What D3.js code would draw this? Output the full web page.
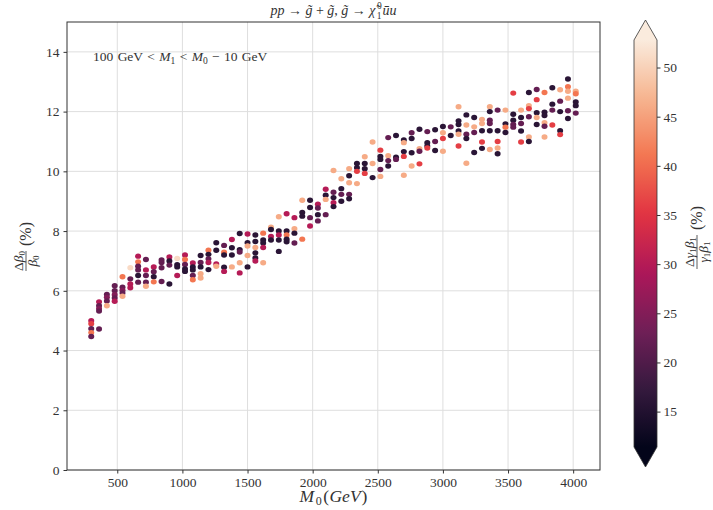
<!DOCTYPE html>
<html>
<head>
<meta charset="utf-8">
<script src="https://cdn.jsdelivr.net/npm/d3@7"></script>
<style>
  body { margin: 0; background: #fff; }
  text { font-family: "Liberation Serif", "DejaVu Serif", serif; fill: #333; }
</style>
</head>
<body>
<div id="chart"></div>
<script>
// column positions M0 (GeV)
var m0 = [300, 360, 420, 480, 540, 600, 660, 720, 780, 840, 900, 960, 1020, 1080, 1140, 1200,
  1260, 1320, 1380, 1440, 1500, 1560, 1620, 1680, 1740, 1800, 1860, 1920, 1980, 2040, 2100, 2160,
  2220, 2280, 2340, 2400, 2460, 2520, 2580, 2640, 2700, 2760, 2820, 2880, 2940, 3000, 3060, 3120,
  3180, 3240, 3300, 3360, 3420, 3480, 3540, 3600, 3660, 3720, 3780, 3840, 3900, 3960, 4020];

// delta beta0 / beta0 (%) for every point in each column
var dBeta = [
  [5.0, 4.9, 4.73, 4.6, 4.47], [5.63, 5.5, 5.4, 5.32, 4.72], [5.88, 5.78, 5.66, 5.5],
  [6.17, 6.0, 5.87, 5.76, 5.65], [6.47, 6.12, 6.02, 5.93, 5.82], [6.77, 6.4, 6.23, 6.1],
  [7.16, 6.97, 6.82, 6.7, 6.51, 6.29], [7.05, 6.7, 6.51, 6.29, 6.15], [6.8, 6.64, 6.47, 6.3],
  [7.03, 6.95, 6.77, 6.31], [7.13, 7.0, 6.86, 6.23], [7.08, 6.87, 6.8, 6.51],
  [7.2, 7.05, 6.88, 6.73, 6.65], [6.93, 6.8, 6.7, 6.51, 6.37], [7.18, 6.95, 6.8, 6.57, 6.43],
  [7.36, 7.22, 7.07, 6.95, 6.71], [7.61, 7.36, 6.9, 6.82], [7.52, 7.29, 7.2, 6.79, 6.65],
  [7.72, 7.44, 7.2, 6.8], [7.92, 7.38, 7.3, 6.94, 6.6], [7.9, 7.61, 7.5, 7.18, 6.8],
  [7.87, 7.65, 7.45, 7.27, 7.1, 7.0], [7.93, 7.7, 7.6, 7.45, 6.94], [8.13, 8.05, 7.82, 7.7],
  [8.48, 8.0, 7.87, 7.7, 7.32], [8.58, 8.0, 7.87, 7.73, 7.64], [8.45, 8.08, 7.93, 7.6],
  [9.03, 8.62, 8.5, 7.73], [9.03, 8.79, 8.45, 8.17], [8.9, 8.77, 8.55, 8.34],
  [9.4, 9.2, 9.06, 8.55], [10.03, 9.3, 9.12, 8.95, 8.82], [9.75, 9.42, 9.23, 9.0],
  [10.09, 9.85, 9.62, 9.23, 9.08], [10.26, 10.12, 10.0, 9.59], [10.49, 10.26, 10.09, 9.93],
  [10.98, 10.26, 9.79], [10.71, 10.5, 10.4, 10.06, 9.83], [11.13, 10.52, 10.36, 10.18],
  [11.2, 10.47, 10.4], [11.05, 10.96, 10.66, 10.5, 9.87], [11.29, 11.1, 10.62, 10.18],
  [11.41, 10.76, 10.67, 10.25], [11.33, 10.96, 10.85, 10.78], [11.39, 11.0, 10.7],
  [11.5, 11.29, 11.1, 10.67], [11.49, 11.2], [12.16, 11.69, 11.57, 11.35, 11.24, 10.85],
  [11.89, 11.55, 11.24, 11.1, 10.27], [11.8, 11.49, 11.3, 10.63], [11.74, 11.6, 11.36, 10.98, 10.77],
  [12.16, 12.0, 11.71, 11.6, 11.36, 10.73], [12.05, 11.36, 11.0, 10.78, 10.59], [12.05, 11.59, 11.48, 11.3],
  [12.62, 11.91, 11.71, 11.57, 11.48], [12.05, 11.8, 11.6, 11.35, 10.98], [12.64, 12.2, 12.1, 11.83, 11.15, 11.0],
  [12.74, 12.4, 11.96, 11.8, 11.57], [12.64, 11.98, 11.87, 11.63, 11.51, 11.15], [12.8, 12.25, 12.05, 11.55],
  [12.73, 12.35, 12.0, 11.36, 11.23], [13.09, 12.83, 12.68, 12.45, 12.03, 11.77], [12.68, 12.6, 12.32, 12.2, 11.95]
];

// delta gamma1 beta1 / gamma1 beta1 (%) -> colour, same layout as dBeta
var dGamma = [
  [30, 36, 22, 41, 22], [30, 22, 25, 22, 22], [22, 25, 22, 46],
  [22, 22, 25, 22, 30], [41, 22, 25, 22, 46], [51, 22, 30, 30],
  [30, 41, 22, 22, 16, 22], [22, 30, 22, 22, 46], [30, 22, 16, 41],
  [22, 22, 22, 22], [30, 16, 22, 16], [51, 16, 16, 30],
  [30, 41, 22, 16, 16], [30, 16, 16, 22, 41], [16, 22, 16, 46, 46],
  [41, 16, 22, 30, 16], [16, 16, 30, 46], [22, 41, 16, 16, 30],
  [30, 16, 16, 46], [16, 16, 22, 46, 30], [30, 16, 46, 46, 16],
  [16, 16, 46, 16, 16, 30], [41, 16, 16, 30, 46], [46, 16, 30, 16],
  [46, 16, 30, 16, 16], [30, 16, 41, 16, 16], [30, 46, 16, 22],
  [46, 16, 16, 41], [16, 16, 22, 30], [30, 22, 16, 22],
  [30, 16, 46, 22], [46, 22, 16, 30, 16], [46, 16, 22, 16],
  [46, 16, 46, 22, 16], [16, 16, 36, 46], [46, 16, 16, 36],
  [46, 46, 16], [36, 16, 16, 22, 46], [22, 46, 22, 16],
  [16, 16, 22], [16, 46, 16, 36, 46], [22, 16, 16, 46],
  [16, 46, 22, 36], [22, 16, 16, 36], [16, 22, 16],
  [16, 46, 36, 46], [22, 16], [46, 16, 16, 16, 46, 36],
  [16, 46, 22, 16, 46], [16, 46, 22, 16], [46, 46, 16, 36, 16],
  [46, 16, 22, 22, 16, 46], [22, 16, 36, 46, 16], [46, 16, 41, 16],
  [36, 16, 16, 22, 22], [46, 16, 22, 16, 36], [16, 46, 36, 22, 46, 16],
  [22, 36, 16, 46, 16], [41, 16, 16, 46, 22, 46], [16, 16, 22, 36],
  [46, 22, 16, 16, 36], [16, 41, 46, 46, 22, 16], [46, 41, 16, 16, 22]
];

var xTicks = [500, 1000, 1500, 2000, 2500, 3000, 3500, 4000];
var yTicks = [0, 2, 4, 6, 8, 10, 12, 14];
var cTicks = [15, 20, 25, 30, 35, 40, 45, 50];
// seaborn "rocket" colormap samples
var rocket = ["#03051a", "#35193e", "#701f57", "#ad1759", "#e13342", "#f37651", "#f6b48f", "#faebdd"];

var W = 713, H = 510;
var L = 67, R = 600, T = 22, B = 470;

var svg = d3.select("#chart").append("svg")
  .attr("width", W).attr("height", H);

var x = d3.scaleLinear().domain([114, 4206]).range([L, R]);
var y = d3.scaleLinear().domain([0, 15]).range([B, T]);
var cmin = 11.4, cmax = 52.8;
var interp = d3.piecewise(d3.interpolateRgb, rocket);
var color = function(v) { return interp(Math.max(0, Math.min(1, (v - cmin) / (cmax - cmin)))); };

// grid
svg.append("g").selectAll("line").data(xTicks).enter().append("line")
  .attr("x1", function(d) { return x(d); }).attr("x2", function(d) { return x(d); })
  .attr("y1", T).attr("y2", B).attr("stroke", "#dedede").attr("stroke-width", 1);
svg.append("g").selectAll("line").data(yTicks).enter().append("line")
  .attr("y1", function(d) { return y(d); }).attr("y2", function(d) { return y(d); })
  .attr("x1", L).attr("x2", R).attr("stroke", "#dedede").attr("stroke-width", 1);

// points
var pts = [];
m0.forEach(function(m, i) {
  dBeta[i].forEach(function(b, j) { pts.push({m: m, b: b, c: dGamma[i][j]}); });
});
svg.append("g").selectAll("ellipse").data(pts).enter().append("ellipse")
  .attr("cx", function(d) { return x(d.m); })
  .attr("cy", function(d) { return y(d.b); })
  .attr("rx", 3).attr("ry", 2.7)
  .attr("fill", function(d) { return color(d.c); });

// axes
var xAxis = svg.append("g").attr("transform", "translate(0," + B + ")")
  .call(d3.axisBottom(x).tickValues(xTicks).tickSize(3.5).tickPadding(4).tickFormat(d3.format("d")));
var yAxis = svg.append("g").attr("transform", "translate(" + L + ",0)")
  .call(d3.axisLeft(y).tickValues(yTicks).tickSize(3.5).tickPadding(4).tickFormat(d3.format("d")));
[xAxis, yAxis].forEach(function(a) {
  a.select(".domain").remove();
  a.selectAll("line").attr("stroke", "#333");
  a.selectAll("text").style("font-family", "Liberation Serif").style("font-size", "13.5px").attr("fill", "#333");
});
svg.append("rect").attr("x", L).attr("y", T).attr("width", R - L).attr("height", B - T)
  .attr("fill", "none").attr("stroke", "#333").attr("stroke-width", 1);

// title
var title = svg.append("text").attr("x", (L + R) / 2).attr("y", 15)
  .attr("text-anchor", "middle").style("font-size", "14px");
title.append("tspan").attr("font-style", "italic").text("pp");
title.append("tspan").text(" \u2192 ");
title.append("tspan").attr("font-style", "italic").text("g\u0303");
title.append("tspan").text(" + ");
title.append("tspan").attr("font-style", "italic").text("g\u0303");
title.append("tspan").text(", ");
title.append("tspan").attr("font-style", "italic").text("g\u0303");
title.append("tspan").text(" \u2192 ");
title.append("tspan").attr("font-style", "italic").text("\u03c7\u0303");
title.append("tspan").attr("dx", 1.5).attr("dy", -6).style("font-size", "9.5px").text("0");
title.append("tspan").attr("dx", -5).attr("dy", 10).style("font-size", "9.5px").text("1");
title.append("tspan").attr("dx", 1).attr("dy", -4).attr("font-style", "italic").text("u\u0304u");

// annotation
var ann = svg.append("text").attr("x", 93).attr("y", 61).style("font-size", "13.5px").style("word-spacing", "1px");
ann.append("tspan").text("100 GeV < ");
ann.append("tspan").attr("font-style", "italic").text("M");
ann.append("tspan").attr("dy", 3).style("font-size", "9.5px").text("1");
ann.append("tspan").attr("dy", -3).text(" < ");
ann.append("tspan").attr("font-style", "italic").text("M");
ann.append("tspan").attr("dy", 3).style("font-size", "9.5px").text("0");
ann.append("tspan").attr("dy", -3).text(" \u2212 10 GeV");

// x label
var xl = svg.append("text").attr("x", (L + R) / 2).attr("y", 502)
  .attr("text-anchor", "middle").style("font-size", "17.5px");
xl.append("tspan").attr("font-style", "italic").text("M");
xl.append("tspan").attr("dx", 1.5).attr("dy", 3).style("font-size", "12px").text("0");
xl.append("tspan").attr("dx", 1.5).attr("dy", -3).text("(");
xl.append("tspan").attr("dx", 0.5).attr("font-style", "italic").text("GeV");
xl.append("tspan").attr("dx", 1).text(")");

// rotated fraction label helper
function fracLabel(cx, cy, num, den, fw) {
  var g = svg.append("g").attr("transform", "translate(" + cx + "," + cy + ") rotate(-90)");
  var n = g.append("text").attr("x", -fw / 2 - 5).attr("y", -3).attr("text-anchor", "middle").style("font-size", "13.5px");
  num(n);
  g.append("line").attr("x1", -fw - 5).attr("x2", -5).attr("y1", 0).attr("y2", 0)
    .attr("stroke", "#333").attr("stroke-width", 0.8);
  var d = g.append("text").attr("x", -fw / 2 - 5).attr("y", 11).attr("text-anchor", "middle").style("font-size", "13.5px");
  den(d);
  g.append("text").attr("x", 0).attr("y", 5).style("font-size", "16px").text("(%)");
}

fracLabel(26, 246, function(t) {
  t.append("tspan").text("\u0394");
  t.append("tspan").attr("font-style", "italic").text("\u03b2");
  t.append("tspan").attr("dy", 2).style("font-size", "9px").text("0");
}, function(t) {
  t.append("tspan").attr("font-style", "italic").text("\u03b2");
  t.append("tspan").attr("dy", 2).style("font-size", "9px").text("0");
}, 20);

// colorbar
var cbL = 634, cbW = 23, cbT = 40, cbB = 447, tri = 20;
var cy = d3.scaleLinear().domain([cmin, cmax]).range([cbB, cbT]);
var grad = svg.append("defs").append("linearGradient").attr("id", "cbgrad")
  .attr("x1", 0).attr("y1", 1).attr("x2", 0).attr("y2", 0);
d3.range(0, 1.0001, 0.02).forEach(function(t) {
  grad.append("stop").attr("offset", t).attr("stop-color", interp(t));
});
svg.append("rect").attr("x", cbL).attr("y", cbT).attr("width", cbW).attr("height", cbB - cbT)
  .attr("fill", "url(#cbgrad)");
svg.append("path").attr("d", "M" + cbL + "," + cbT + "L" + (cbL + cbW / 2) + "," + (cbT - tri) + "L" + (cbL + cbW) + "," + cbT + "Z")
  .attr("fill", rocket[rocket.length - 1]);
svg.append("path").attr("d", "M" + cbL + "," + cbB + "L" + (cbL + cbW / 2) + "," + (cbB + tri) + "L" + (cbL + cbW) + "," + cbB + "Z")
  .attr("fill", rocket[0]);
svg.append("path").attr("d", "M" + cbL + "," + cbT + "L" + (cbL + cbW / 2) + "," + (cbT - tri) + "L" + (cbL + cbW) + "," + cbT +
    "L" + (cbL + cbW) + "," + cbB + "L" + (cbL + cbW / 2) + "," + (cbB + tri) + "L" + cbL + "," + cbB + "Z")
  .attr("fill", "none").attr("stroke", "#333").attr("stroke-width", 0.8);
var cAxis = svg.append("g").attr("transform", "translate(" + (cbL + cbW) + ",0)")
  .call(d3.axisRight(cy).tickValues(cTicks).tickSize(3.5).tickPadding(3).tickFormat(d3.format("d")));
cAxis.select(".domain").remove();
cAxis.selectAll("line").attr("stroke", "#333");
cAxis.selectAll("text").style("font-family", "Liberation Serif").style("font-size", "13.5px").attr("fill", "#333");

fracLabel(697, 230, function(t) {
  t.append("tspan").text("\u0394");
  t.append("tspan").attr("font-style", "italic").text("\u03b3");
  t.append("tspan").attr("dy", 2).style("font-size", "9px").text("1");
  t.append("tspan").attr("dy", -2).attr("font-style", "italic").text("\u03b2");
  t.append("tspan").attr("dy", 2).style("font-size", "9px").text("1");
}, function(t) {
  t.append("tspan").attr("font-style", "italic").text("\u03b3");
  t.append("tspan").attr("dy", 2).style("font-size", "9px").text("1");
  t.append("tspan").attr("dy", -2).attr("font-style", "italic").text("\u03b2");
  t.append("tspan").attr("dy", 2).style("font-size", "9px").text("1");
}, 34);
</script>
</body>
</html>
